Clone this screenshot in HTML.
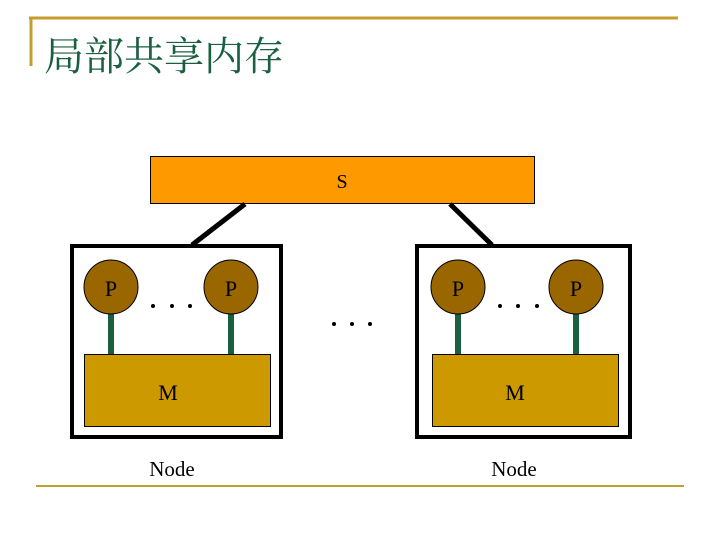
<!DOCTYPE html>
<html><head><meta charset="utf-8"><style>body{margin:0;background:#fff}</style></head><body>
<svg width="720" height="540" xmlns="http://www.w3.org/2000/svg" font-family="Liberation Serif, serif">
<rect width="720" height="540" fill="#fff"/>
<line x1="29" y1="18" x2="678" y2="18" stroke="#c59d2d" stroke-width="3"/>
<line x1="31" y1="17" x2="31" y2="66" stroke="#c59d2d" stroke-width="3"/>
<line x1="36" y1="486" x2="684" y2="486" stroke="#c59d2d" stroke-width="2"/>
<text x="44" y="70" font-size="40" fill="#1a6040" font-family="Liberation Serif, Noto Serif CJK SC, serif">局部共享内存</text>
<rect x="150.5" y="156.5" width="384" height="47" fill="#ff9900" stroke="#000"/>
<text x="342" y="188" font-size="20" text-anchor="middle">S</text>
<line x1="245" y1="204" x2="192" y2="245" stroke="#000" stroke-width="5"/>
<line x1="450" y1="204" x2="492" y2="245" stroke="#000" stroke-width="5"/>
<g>
<rect x="72" y="246" width="209" height="191" fill="#fff" stroke="#000" stroke-width="4"/>
<rect x="108" y="310" width="6" height="46" fill="#1a6040"/>
<rect x="228" y="310" width="6" height="46" fill="#1a6040"/>
<rect x="84.5" y="354.5" width="186" height="72" fill="#cc9900" stroke="#000"/>
<circle cx="111" cy="287" r="27" fill="#996600" stroke="#000"/>
<circle cx="231" cy="287" r="27" fill="#996600" stroke="#000"/>
<text x="111" y="296" font-size="22" text-anchor="middle">P</text>
<text x="231" y="296" font-size="22" text-anchor="middle">P</text>
<text x="168" y="400" font-size="22" text-anchor="middle">M</text>
<circle cx="153" cy="306" r="2" fill="#000"/><circle cx="172" cy="306" r="2" fill="#000"/><circle cx="190" cy="306" r="2" fill="#000"/>
</g>
<g>
<rect x="417" y="246" width="213" height="191" fill="#fff" stroke="#000" stroke-width="4"/>
<rect x="455" y="310" width="6" height="46" fill="#1a6040"/>
<rect x="573" y="310" width="6" height="46" fill="#1a6040"/>
<rect x="432.5" y="354.5" width="186" height="72" fill="#cc9900" stroke="#000"/>
<circle cx="458" cy="287" r="27" fill="#996600" stroke="#000"/>
<circle cx="576" cy="287" r="27" fill="#996600" stroke="#000"/>
<text x="458" y="296" font-size="22" text-anchor="middle">P</text>
<text x="576" y="296" font-size="22" text-anchor="middle">P</text>
<text x="515" y="400" font-size="22" text-anchor="middle">M</text>
<circle cx="500" cy="306" r="2" fill="#000"/><circle cx="518" cy="306" r="2" fill="#000"/><circle cx="537" cy="306" r="2" fill="#000"/>
</g>
<circle cx="334" cy="324" r="2" fill="#000"/><circle cx="352" cy="324" r="2" fill="#000"/><circle cx="370" cy="324" r="2" fill="#000"/>
<text x="172" y="476" font-size="21" text-anchor="middle">Node</text>
<text x="514" y="476" font-size="21" text-anchor="middle">Node</text>
</svg>
</body></html>
